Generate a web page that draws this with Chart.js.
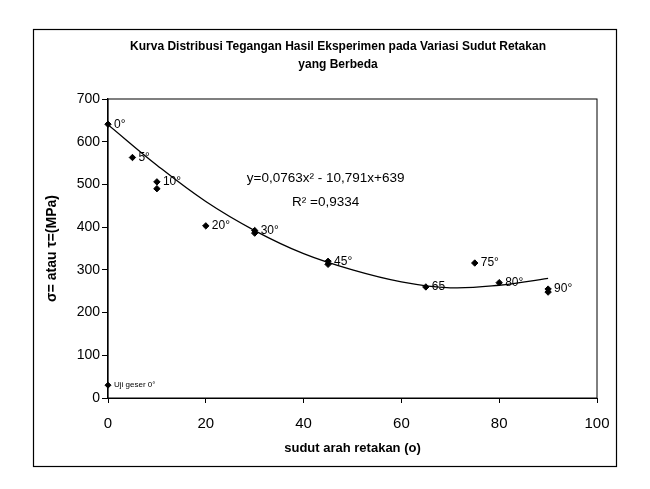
<!DOCTYPE html>
<html>
<head>
<meta charset="utf-8">
<script src="https://cdn.jsdelivr.net/npm/chart.js@4"></script>
<style>
  html, body { margin: 0; padding: 0; background: #fff; }
  #wrap { width: 650px; height: 489px; }
</style>
</head>
<body>
<div id="wrap"><canvas id="grafik" width="650" height="489"></canvas></div>
<script>
// data
const sudut = [0, 5, 10, 10, 20, 30, 30, 45, 45, 65, 75, 80, 90, 90];
const tegangan = [641, 563, 506, 490, 403, 392, 386, 320, 313, 260, 316, 270, 255, 248];
const labelSudut = ['0°', '5°', '10°', '', '20°', '30°', '', '45°', '', '65', '75°', '80°', '90°', ''];

const ujiGeserX = [0];
const ujiGeserY = [30];
const ujiGeserLabel = ['Uji geser 0°'];

// garis tren polinomial (dibaca dari kurva)
const trenX = [0, 10, 20, 30, 40, 50, 60, 70, 80, 90];
const trenY = [640, 545, 460, 392, 338, 300, 272, 258, 264, 280];

const xTicks = [0, 20, 40, 60, 80, 100];
const yTicks = [0, 100, 200, 300, 400, 500, 600, 700];

const judul = ['Kurva Distribusi Tegangan Hasil Eksperimen pada Variasi Sudut Retakan', 'yang Berbeda'];
const persamaan = ['y=0,0763x² - 10,791x+639', 'R² =0,9334'];
const posisiPersamaan = [[44.5, 515], [44.5, 459]];

const hitam = '#000';
const huruf = 'Liberation Sans, Arial, sans-serif';

// plugin untuk bingkai, judul, label titik dan persamaan
const hiasan = {
    id: 'hiasan',
    beforeDraw(chart) {
        const ctx = chart.ctx;
        ctx.save();
        ctx.fillStyle = '#fff';
        ctx.fillRect(0, 0, chart.width, chart.height);
        ctx.strokeStyle = hitam;
        ctx.lineWidth = 1.2;
        ctx.strokeRect(33.5, 29.5, 583, 437);
        ctx.restore();
    },
    afterDatasetsDraw(chart) {
        const ctx = chart.ctx;
        const area = chart.chartArea;
        ctx.save();
        // bingkai area plot
        ctx.strokeStyle = hitam;
        ctx.lineWidth = 1;
        ctx.strokeRect(area.left, area.top, area.right - area.left, area.bottom - area.top);

        // judul
        ctx.fillStyle = hitam;
        ctx.textAlign = 'center';
        ctx.textBaseline = 'middle';
        ctx.font = 'bold 12px ' + huruf;
        judul.forEach((baris, i) => ctx.fillText(baris, 338, 47 + i * 18));

        // label tiap titik
        ctx.textAlign = 'left';
        chart.data.datasets.forEach((ds, di) => {
            if (!ds.teks) return;
            const meta = chart.getDatasetMeta(di);
            ctx.font = ds.ukuranTeks + 'px ' + huruf;
            meta.data.forEach((pt, i) => {
                const t = ds.teks[i];
                if (t) ctx.fillText(t, pt.x + 6, pt.y);
            });
        });

        // persamaan regresi
        const sx = chart.scales.x, sy = chart.scales.y;
        ctx.textAlign = 'center';
        ctx.font = '13.5px ' + huruf;
        persamaan.forEach((baris, i) => {
            const p = posisiPersamaan[i];
            ctx.fillText(baris, sx.getPixelForValue(p[0]), sy.getPixelForValue(p[1]));
        });
        ctx.restore();
    }
};

new Chart(document.getElementById('grafik'), {
    type: 'scatter',
    data: {
        datasets: [
            {
                label: 'Tren',
                type: 'line',
                data: trenX.map((x, i) => ({ x: x, y: trenY[i] })),
                borderColor: hitam,
                borderWidth: 1.3,
                pointRadius: 0,
                tension: 0.4,
                fill: false
            },
            {
                label: 'Eksperimen',
                data: sudut.map((x, i) => ({ x: x, y: tegangan[i] })),
                teks: labelSudut,
                ukuranTeks: 12,
                pointStyle: 'rectRot',
                pointRadius: 3.2,
                backgroundColor: hitam,
                borderColor: hitam,
                clip: false
            },
            {
                label: 'Uji geser',
                data: ujiGeserX.map((x, i) => ({ x: x, y: ujiGeserY[i] })),
                teks: ujiGeserLabel,
                ukuranTeks: 8,
                pointStyle: 'rectRot',
                pointRadius: 3,
                backgroundColor: hitam,
                borderColor: hitam,
                clip: false
            }
        ]
    },
    options: {
        responsive: false,
        animation: false,
        layout: { padding: { left: 40, right: 53, top: 99, bottom: 0 } },
        plugins: {
            legend: { display: false },
            tooltip: { enabled: false },
            title: { display: false }
        },
        scales: {
            x: {
                type: 'linear',
                min: 0,
                max: 100,
                afterBuildTicks: (s) => { s.ticks = xTicks.map(v => ({ value: v })); },
                afterFit: (s) => { s.height = 91; },
                ticks: { color: hitam, font: { family: huruf, size: 15 }, padding: 12 },
                grid: { drawOnChartArea: false, tickLength: 5, color: hitam },
                border: { color: hitam, width: 1 },
                title: {
                    display: true,
                    text: 'sudut arah retakan (o)',
                    color: hitam,
                    font: { family: huruf, size: 13, weight: 'bold' },
                    padding: 33
                }
            },
            y: {
                min: 0,
                max: 700,
                afterBuildTicks: (s) => { s.ticks = yTicks.map(v => ({ value: v })); },
                afterFit: (s) => { s.width = 68; },
                ticks: { color: hitam, font: { family: huruf, size: 14 }, padding: 2 },
                grid: { drawOnChartArea: false, tickLength: 6, color: hitam },
                border: { color: hitam, width: 1.3 },
                title: {
                    display: true,
                    text: 'σ= atau τ=(MPa)',
                    color: hitam,
                    font: { family: huruf, size: 14, weight: 'bold' },
                    padding: 4
                }
            }
        }
    },
    plugins: [hiasan]
});
</script>
</body>
</html>
